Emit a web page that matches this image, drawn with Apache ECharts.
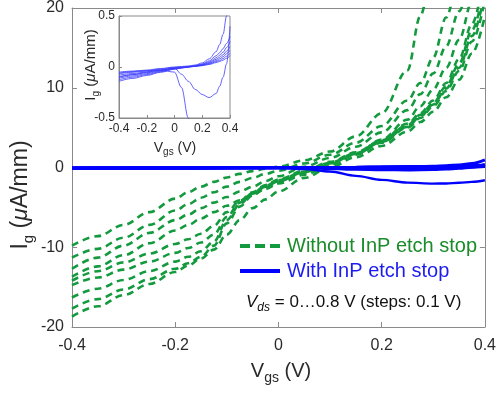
<!DOCTYPE html>
<html><head><meta charset="utf-8">
<script src="https://cdn.jsdelivr.net/npm/echarts@6/dist/echarts.min.js"></script>
<style>html,body{margin:0;padding:0;background:#fff}#c{width:499px;height:395px}</style>
</head><body><div id="c"></div>
<script>
// ---- data ----
const vgsGreen = [-0.4,-0.35,-0.3,-0.25,-0.2,-0.175,-0.15,-0.125,-0.1,-0.075,-0.05,-0.025,0,0.05,0.1,0.15,0.2,0.25,0.275,0.3,0.325,0.35,0.375,0.4];
const green1 = [-9.8,-8.6,-7.2,-5.6,-3.9,-3.1,-2.4,-1.8,-1.25,-0.8,-0.45,-0.15,0.1,0.9,2.0,3.9,6.8,12.2,19.0,28];
const green2 = [-11.3,-10.2,-8.8,-7.2,-5.4,-4.6,-3.8,-3.1,-2.4,-1.8,-1.3,-0.8,-0.4,0.5,1.6,3.1,5.2,8.4,10.6,13.8,18.8,26];
const green3 = [-12.7,-11.3,-9.8,-8.2,-6.6,-5.9,-5.1,-4.4,-3.7,-3.0,-2.4,-1.7,-1.1,0.1,1.2,2.6,4.4,7.2,9.2,11.8,15.2,19.6,25.5];
const green4 = [-13.7,-12.4,-11.0,-9.5,-7.9,-7.2,-6.4,-5.6,-4.8,-4.1,-3.4,-2.7,-2.0,-0.9,0.3,1.7,3.5,6.0,7.7,9.8,12.5,16.0,20.8,27];
const green5 = [-14.2,-13.0,-11.9,-10.8,-9.6,-9.0,-8.3,-7.3,-5.6,-4.2,-3.1,-2.2,-1.5,-0.4,0.7,1.9,3.4,5.5,6.8,8.4,10.6,13.6,18.0,24.5];
const green6 = [-14.75,-13.8,-12.8,-11.8,-10.7,-10.1,-9.4,-8.4,-6.2,-4.4,-3.2,-2.3,-1.6,-0.5,0.6,1.8,3.3,5.3,6.6,8.1,10.2,13.0,17.2,23.0];
const green7 = [-16.3,-15.2,-14.1,-13.0,-11.8,-11.2,-10.5,-9.3,-6.6,-4.6,-3.3,-2.4,-1.7,-0.6,0.5,1.7,3.2,5.1,6.4,7.9,9.9,12.5,16.5,22.0];
const green8 = [-17.7,-16.5,-15.3,-14.0,-12.7,-12.0,-11.2,-9.8,-7.0,-4.9,-3.5,-2.5,-1.8,-0.7,0.4,1.6,3.1,5.0,6.2,7.7,9.6,12.1,15.8,21.0];
const green9 = [-18.7,-17.4,-16.0,-14.6,-13.1,-12.3,-11.4,-10.3,-8.4,-6.6,-5.1,-4.0,-3.0,-1.3,0.0,1.3,2.7,4.5,5.7,7.0,8.8,11.0,14.3,19.0];

const vgsBlue = [-0.4,-0.3,-0.2,-0.1,0,0.05,0.1,0.15,0.2,0.25,0.3,0.325,0.35,0.375,0.4];
const blue1 = [-0.05,-0.04,-0.03,-0.015,0,0.005,0.01,0.02,0.04,0.08,0.15,0.22,0.32,0.5,0.95];
const blue2 = [-0.065,-0.052,-0.038,-0.02,-0.005,0.0,0.005,0.013,0.03,0.06,0.11,0.14,0.18,0.23,0.3];
const blue3 = [-0.08,-0.064,-0.047,-0.028,-0.01,-0.003,0.003,0.012,0.026,0.05,0.09,0.115,0.145,0.19,0.25];
const blue4 = [-0.095,-0.076,-0.056,-0.034,-0.013,-0.005,0.002,0.01,0.022,0.042,0.075,0.095,0.12,0.155,0.2];
const blue5 = [-0.11,-0.088,-0.065,-0.04,-0.016,-0.007,0.001,0.008,0.019,0.036,0.062,0.08,0.1,0.13,0.165];
const blue6 = [-0.125,-0.1,-0.074,-0.046,-0.019,-0.009,0.0,0.007,0.016,0.03,0.052,0.066,0.083,0.105,0.135];
const blue7 = [-0.14,-0.112,-0.083,-0.052,-0.022,-0.011,-0.001,0.006,0.013,0.025,0.043,0.054,0.068,0.085,0.11];
const blue8 = [-0.1,-0.075,-0.05,-0.03,-0.01,-0.07,-0.14,-0.22,-0.27,-0.3,-0.26,-0.19,-0.1,0.03,0.4];
const blue9 = [-0.06,-0.045,-0.035,-0.03,-0.05,-0.2,-0.5,-1.05,-1.55,-1.9,-2.02,-2.0,-1.92,-1.8,-1.6];

const seriesNames = ['Without InP etch stop', 'With InP etch stop'];
const annotation = ' = 0\u20260.8 V (steps: 0.1 V)';

// ---- styles ----
const FONT = 'Liberation Sans, Arial, sans-serif';
const GREEN = '#139a3e';
const BLUE = '#0000ff';
const INSET_BLUE = '#3a3aff';
const AXIS = '#8a8a8a';
const TXT = '#2a2a2a';

const greens = [green1,green2,green3,green4,green5,green6,green7,green8,green9];
const blues = [blue1,blue2,blue3,blue4,blue5,blue6,blue7,blue8,blue9];

const series = [];
greens.forEach(arr => series.push({
  type:'line', name: seriesNames[0], xAxisIndex:0, yAxisIndex:0,
  data: arr.map((v,i)=>[vgsGreen[i], v]), symbol:'none', smooth:0.35, smoothMonotone:'x',
  lineStyle:{color:GREEN, width:2.6, type:[7,5]}, itemStyle:{color:GREEN}, z:2, silent:true
}));
blues.forEach((arr,k) => series.push({
  type:'line', name: seriesNames[1], xAxisIndex:0, yAxisIndex:0,
  data: arr.map((v,i)=>[vgsBlue[i], v]), symbol:'none', smooth:0.35, smoothMonotone:'x',
  lineStyle:{color:BLUE, width: k===8 ? 2.4 : 3}, itemStyle:{color:BLUE}, z:3, silent:true
}));
blues.forEach((arr,k) => series.push({
  type:'line', name: 'inset' + k, xAxisIndex:2, yAxisIndex:2,
  data: arr.map((v,i)=>[vgsBlue[i], v]), symbol:'none', smooth:0.35, smoothMonotone:'x',
  lineStyle:{color:INSET_BLUE, width:0.8}, itemStyle:{color:INSET_BLUE}, z:5, silent:true
}));

const tick = {inside:true, length:5, lineStyle:{color:AXIS}};
const line = {onZero:false, lineStyle:{color:AXIS, width:1}};

const chart = echarts.init(document.getElementById('c'), null, {renderer:'canvas'});
chart.setOption({
  animation:false,
  backgroundColor:'#fff',
  grid:[
    {left:72, right:11, top:7, bottom:68},
    {left:119, top:16, width:111, height:102, show:true, backgroundColor:'#fff', borderColor:AXIS, borderWidth:1, z:4}
  ],
  xAxis:[
    {type:'value', gridIndex:0, min:-0.4, max:0.4, interval:0.2, axisLine:line, axisTick:tick,
     axisLabel:{color:TXT, fontSize:16, fontFamily:FONT, margin:11}, splitLine:{show:false}},
    {type:'value', gridIndex:0, position:'top', min:-0.4, max:0.4, interval:0.2, axisLine:line, axisTick:tick,
     axisLabel:{show:false}, splitLine:{show:false}},
    {type:'value', gridIndex:1, min:-0.4, max:0.4, interval:0.2, axisLine:line, axisTick:{inside:true,length:3,lineStyle:{color:AXIS}},
     axisLabel:{color:TXT, fontSize:12, fontFamily:FONT, margin:5}, splitLine:{show:false}, z:4}
  ],
  yAxis:[
    {type:'value', gridIndex:0, min:-20, max:20, interval:10, axisLine:line, axisTick:tick,
     axisLabel:{color:TXT, fontSize:16, fontFamily:FONT, margin:8}, splitLine:{show:false}},
    {type:'value', gridIndex:0, position:'right', min:-20, max:20, interval:10, axisLine:line, axisTick:tick,
     axisLabel:{show:false}, splitLine:{show:false}},
    {type:'value', gridIndex:1, min:-0.5, max:0.5, interval:0.5, axisLine:line, axisTick:{inside:true,length:3,lineStyle:{color:AXIS}},
     axisLabel:{color:TXT, fontSize:12, fontFamily:FONT, margin:4}, splitLine:{show:false}, z:4}
  ],
  legend:{
    orient:'vertical', left:233, top:230, itemWidth:40, itemHeight:14, itemGap:3,
    selectedMode:false,
    textStyle:{fontSize:20, fontFamily:FONT, lineHeight:22, padding:[0,0,0,2]},
    data:[
      {name:seriesNames[0], textStyle:{color:'#1a8c2a'}, itemStyle:{opacity:0}, lineStyle:{width:4, type:[10,5], color:GREEN}},
      {name:seriesNames[1], textStyle:{color:'#1c1cf0'}, itemStyle:{opacity:0}, lineStyle:{width:4, color:BLUE}}
    ]
  },
  graphic:[
    {type:'text', x:21, y:195, rotation:Math.PI/2, z:10,
     style:{text:'{m|I}{s|g}{m| (}{i|\u03bc}{m|A/mm)}', align:'center', verticalAlign:'middle', fill:TXT,
       rich:{m:{fontSize:23, fontFamily:FONT, lineHeight:30, verticalAlign:'middle', fill:TXT},
             i:{fontSize:23, fontFamily:FONT, fontStyle:'italic', lineHeight:30, verticalAlign:'middle', fill:TXT},
             s:{fontSize:15, fontFamily:FONT, lineHeight:15, verticalAlign:'bottom', fill:TXT}}}},
    {type:'text', x:281, y:371, z:10,
     style:{text:'{m|V}{s|gs}{m| (V)}', align:'center', verticalAlign:'middle', fill:TXT,
       rich:{m:{fontSize:20, fontFamily:FONT, lineHeight:28, verticalAlign:'middle', fill:TXT},
             s:{fontSize:14, fontFamily:FONT, lineHeight:14, verticalAlign:'bottom', fill:TXT}}}},
    {type:'text', x:91, y:65, rotation:Math.PI/2, z:10,
     style:{text:'{m|I}{s|g}{m| (}{i|\u03bc}{m|A/mm)}', align:'center', verticalAlign:'middle', fill:TXT,
       rich:{m:{fontSize:15, fontFamily:FONT, lineHeight:20, verticalAlign:'middle', fill:TXT},
             i:{fontSize:15, fontFamily:FONT, fontStyle:'italic', lineHeight:20, verticalAlign:'middle', fill:TXT},
             s:{fontSize:10, fontFamily:FONT, lineHeight:10, verticalAlign:'bottom', fill:TXT}}}},
    {type:'text', x:175, y:148, z:10,
     style:{text:'{m|V}{s|gs}{m| (V)}', align:'center', verticalAlign:'middle', fill:TXT,
       rich:{m:{fontSize:14, fontFamily:FONT, lineHeight:18, verticalAlign:'middle', fill:TXT},
             s:{fontSize:10, fontFamily:FONT, lineHeight:10, verticalAlign:'bottom', fill:TXT}}}},
    {type:'text', x:246, y:302, z:10,
     style:{text:'{v|V}{s|ds}{m|' + annotation + '}', align:'left', verticalAlign:'middle', fill:'#111',
       rich:{m:{fontSize:17, fontFamily:FONT, lineHeight:24, verticalAlign:'middle', fill:'#111'},
             v:{fontSize:17, fontFamily:FONT, fontStyle:'italic', lineHeight:24, verticalAlign:'middle', fill:'#111'},
             s:{fontSize:12, fontFamily:FONT, fontStyle:'italic', lineHeight:12, verticalAlign:'bottom', fill:'#111'}}}}
  ],
  series: series
});
</script></body></html>
